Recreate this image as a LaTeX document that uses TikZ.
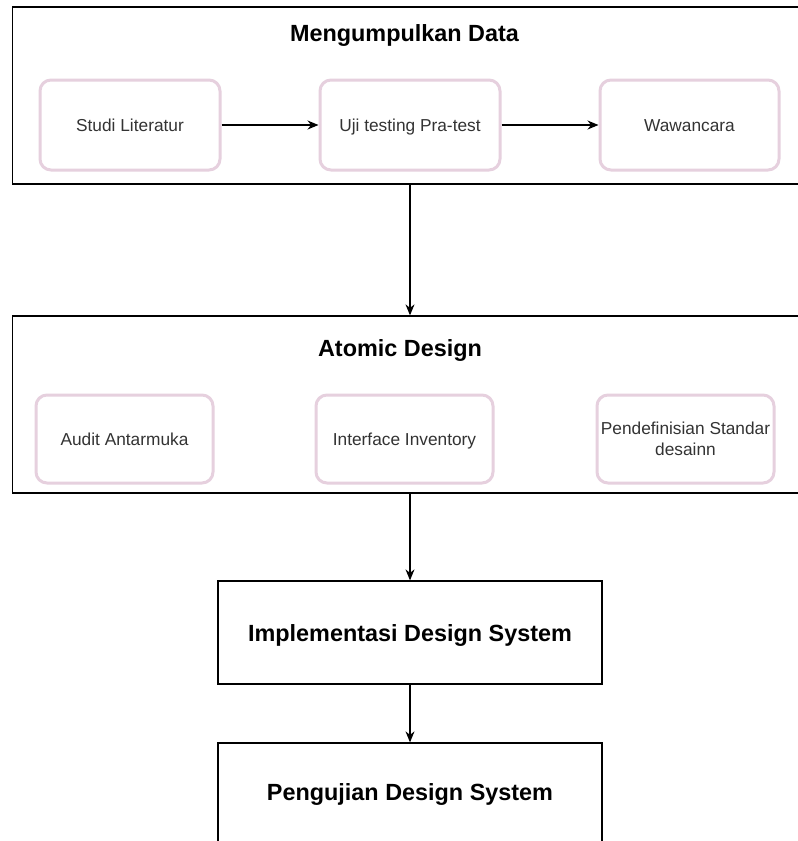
\documentclass[tikz,border=0pt]{standalone}
\usepackage{fontspec}
\setmainfont{Liberation Sans}
\usetikzlibrary{arrows.meta,calc}
\definecolor{pinkline}{HTML}{E6D0DE}
\definecolor{txtgray}{HTML}{333333}
\tikzset{
  x=1pt,y=-1pt,
  container/.style={draw=black,line width=1.3pt,fill=white,inner sep=0pt},
  roundbox/.style={draw=pinkline,line width=3pt,rounded corners=11pt,fill=white,
    text=txtgray,font=\fontsize{17.3}{21.5}\selectfont,align=center,inner sep=0pt,
    text height=14.5pt,text depth=2.5pt},
  titletext/.style={font=\bfseries\fontsize{23.4}{28}\selectfont,text=black,inner sep=0pt,anchor=base},
  plainbox/.style={draw=black,line width=1.3pt,fill=white,inner sep=0pt},
  arr/.style={draw=black,line width=1.3pt,-{Stealth[length=11pt,width=9pt]}}
}
\begin{document}
\begin{tikzpicture}
\useasboundingbox (0,0) rectangle (798,841);
\clip (0,0) rectangle (798,841);
\fill[white] (0,0) rectangle (798,841);

% containers
\node[container,minimum width=792pt,minimum height=177pt] (c1) at (408.5,95.5) {};
\node[container,minimum width=792pt,minimum height=177pt] (c2) at (408.5,404.5) {};

% titles
\node[titletext] (t1) at (404.5,41.5) {Mengumpulkan Data};
\node[titletext] (t2) at (400,356.5) {Atomic Design};

% row 1
\node[roundbox,minimum width=180pt,minimum height=90pt] (studi) at (130,125) {Studi Literatur};
\node[roundbox,minimum width=180pt,minimum height=90pt] (uji) at (410,125) {Uji testing Pra-test};
\node[roundbox,minimum width=179pt,minimum height=90pt] (waw) at (689.5,125) {Wawancara};

% row 2
\node[roundbox,minimum width=177pt,minimum height=88pt] (audit) at (124.5,439) {Audit Antarmuka};
\node[roundbox,minimum width=177pt,minimum height=88pt] (inv) at (404.5,439) {Interface Inventory};
\node[roundbox,minimum width=177pt,minimum height=88pt,text height=36pt] (pend) at (685.5,439) {Pendefinisian Standar\\desainn};

% lower boxes
\node[plainbox,minimum width=384pt,minimum height=103pt] (impl) at (410,632.5) {};
\node[titletext] (implt) at (410,641) {Implementasi Design System};
\node[plainbox,minimum width=384pt,minimum height=110pt] (peng) at (410,798) {};
\node[titletext] (pengt) at (410,800.5) {Pengujian Design System};

% connectors
\draw[arr] (studi.east) -- (uji.west);
\draw[arr] (uji.east) -- (waw.west);
\coordinate (a1s) at (c1.south -| uji.center);
\coordinate (a1e) at (c2.north -| uji.center);
\draw[arr] (a1s) -- (a1e);
\coordinate (a2s) at (c2.south -| impl.center);
\draw[arr] (a2s) -- (impl.north);
\draw[arr] (impl.south) -- (peng.north);
\end{tikzpicture}
\end{document}
